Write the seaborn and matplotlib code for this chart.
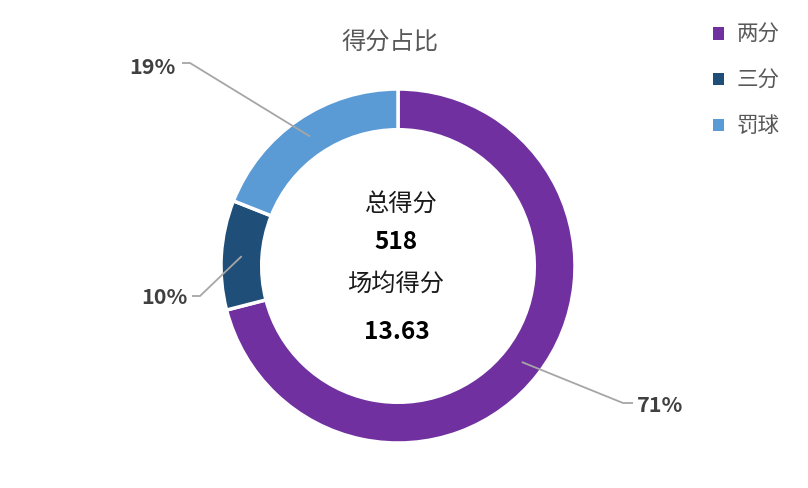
import matplotlib
matplotlib.use("Agg")
import matplotlib.pyplot as plt
import seaborn as sns
import numpy as np
from matplotlib.patches import Patch

categories = ["两分", "三分", "罚球"]
shares = [71, 10, 19]
pct_labels = ["71%", "10%", "19%"]
colors = ["#7030A0", "#1F4E79", "#5B9BD5"]
title = "得分占比"
center_lines = ["总得分", "518", "场均得分", "13.63"]

sns.set_theme(style="white")
plt.rcParams['font.family'] = ['Noto Sans CJK SC', 'DejaVu Sans']

W, H = 808, 488
fig = plt.figure(figsize=(W / 100, H / 100), dpi=100)
cx, cy, R = 398, 266, 177
ax = fig.add_axes([(cx - R) / W, (H - cy - R) / H, 2 * R / W, 2 * R / H])

wedges, _ = ax.pie(shares, colors=colors, startangle=90, counterclock=False,
                   radius=1.0, wedgeprops=dict(width=0.23, edgecolor="white", linewidth=2.5))
ax.set_xlim(-1, 1)
ax.set_ylim(-1, 1)
ax.set_aspect("equal")
ax.axis("off")

def d(px, py):
    return ((px - cx) / R, (cy - py) / R)

ang = 90.0
anchors = []
for s in shares:
    span = s / sum(shares) * 360
    mid = np.deg2rad(ang - span / 2)
    anchors.append((0.885 * np.cos(mid), 0.885 * np.sin(mid)))
    ang -= span

elbows = [d(623, 403), d(200, 296), d(190, 63)]
ends = [d(633, 403), d(192, 296), d(182, 63)]
txts = [(d(637, 405), "left"), (d(188, 297), "right"), (d(176, 67), "right")]
for a, e, en, (tp, ha), lab in zip(anchors, elbows, ends, txts, pct_labels):
    ax.plot([a[0], e[0], en[0]], [a[1], e[1], en[1]], color="#A6A6A6", lw=1.3,
            clip_on=False, solid_capstyle="butt")
    ax.text(tp[0], tp[1], lab, ha=ha, va="center", fontsize=15.5, fontweight="bold",
            color="#404040", clip_on=False)

ax.text(*d(401, 205), center_lines[0], ha="center", va="center", fontsize=17.5, color="#1a1a1a")
ax.text(*d(396, 242), center_lines[1], ha="center", va="center", fontsize=17.5, fontweight="bold", color="black")
ax.text(*d(396, 285), center_lines[2], ha="center", va="center", fontsize=17.5, color="#1a1a1a")
ax.text(*d(397, 332), center_lines[3], ha="center", va="center", fontsize=17.5, fontweight="bold", color="black")

fig.text(390 / W, 1 - 42 / H, title, ha="center", va="center", fontsize=17.5, color="#595959")

handles = [Patch(facecolor=c, edgecolor="none") for c in colors]
leg = fig.legend(handles, categories, loc="upper left", bbox_to_anchor=(698 / W, 1 - 9 / H),
                 frameon=False, fontsize=15.5, handlelength=0.5, handleheight=0.5,
                 handletextpad=0.6, labelspacing=1.1, borderpad=0.2, labelcolor="#595959")

fig.savefig("out.png", dpi=100, facecolor="white")
